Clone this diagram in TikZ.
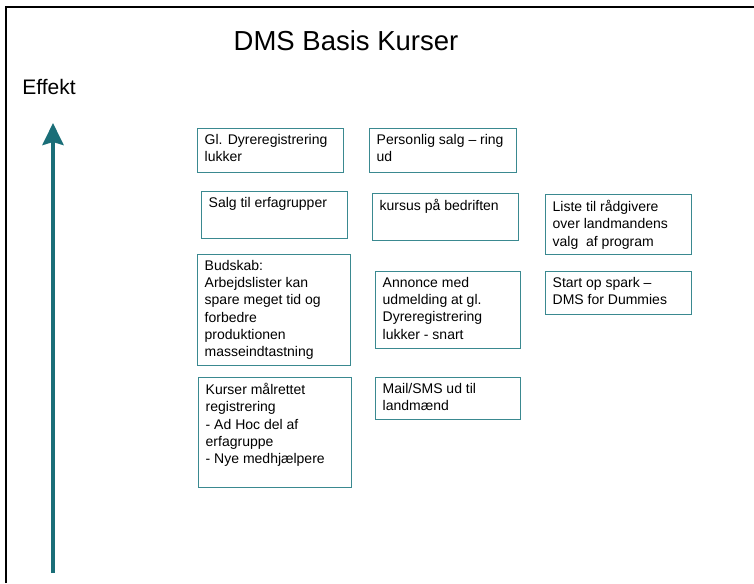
\documentclass[tikz,border=0pt]{standalone}
\usepackage{fontspec}
\setmainfont{Liberation Sans}
\usetikzlibrary{arrows.meta}
\definecolor{pilteal}{HTML}{1A6E78}
\definecolor{boksteal}{HTML}{3A8990}
\newcommand{\felt}[3]{\parbox[c][#2][t]{#1}{\raggedright #3}}

\begin{document}
\begin{tikzpicture}[x=1pt,y=-1pt,
  boks/.style={draw=boksteal,line width=1.4pt,anchor=north west,inner xsep=7pt,inner ysep=5.5pt,
    font=\fontsize{14}{17.3}\selectfont},
  pil/.style={draw=pilteal,line width=4pt,-{Stealth[length=22pt,width=21pt,inset=3pt]}}]
  \useasboundingbox (0,0) rectangle (754,583);
  \draw[line width=1.8pt] (6,583) -- (6,7) -- (754,7);
  \node[font=\fontsize{27.5}{32}\selectfont] (titel) at (346,41) {DMS Basis Kurser};
  \node[font=\fontsize{21}{24}\selectfont] (effekt) at (49,87) {Effekt};
  \coordinate (bund) at (53,573);
  \coordinate (top) at (53,123);
  \draw[pil] (bund) -- (top);
  % venstre kolonne
  \node[boks] (dyrereg) at (197,128) {\felt{132pt}{33pt}{Gl. Dyreregistrering\\lukker}};
  \node[boks] (erfa) at (201,191) {\felt{132pt}{36pt}{Salg til erfagrupper}};
  \node[boks] (budskab) at (197,254) {\felt{139pt}{100pt}{Budskab:\\Arbejdslister kan\\spare meget tid og\\forbedre\\produktionen\\masseindtastning}};
  \node[boks] (kurser) at (198,377) {\felt{139pt}{99pt}{Kurser målrettet\\registrering\\- Ad Hoc del af\\erfagruppe\\- Nye medhjælpere}};
  % midterste kolonne
  \node[boks] (salg) at (369,128) {\felt{133pt}{33pt}{Personlig salg – ring\\ud}};
  \node[boks] (bedrift) at (372,193) {\felt{132pt}{36pt}{kursus på bedriften}};
  \node[boks] (annonce) at (375,271) {\felt{131pt}{66pt}{Annonce med\\udmelding at gl.\\Dyreregistrering\\lukker - snart}};
  \node[boks] (mail) at (375,377) {\felt{131pt}{31pt}{Mail/SMS ud til\\landmænd}};
  % hoejre kolonne
  \node[boks] (liste) at (545,194) {\felt{132pt}{49pt}{Liste til rådgivere\\over landmandens\\valg\ \ af program}};
  \node[boks] (spark) at (545,271) {\felt{132pt}{32pt}{Start op spark –\\DMS for Dummies}};
\end{tikzpicture}
\end{document}
